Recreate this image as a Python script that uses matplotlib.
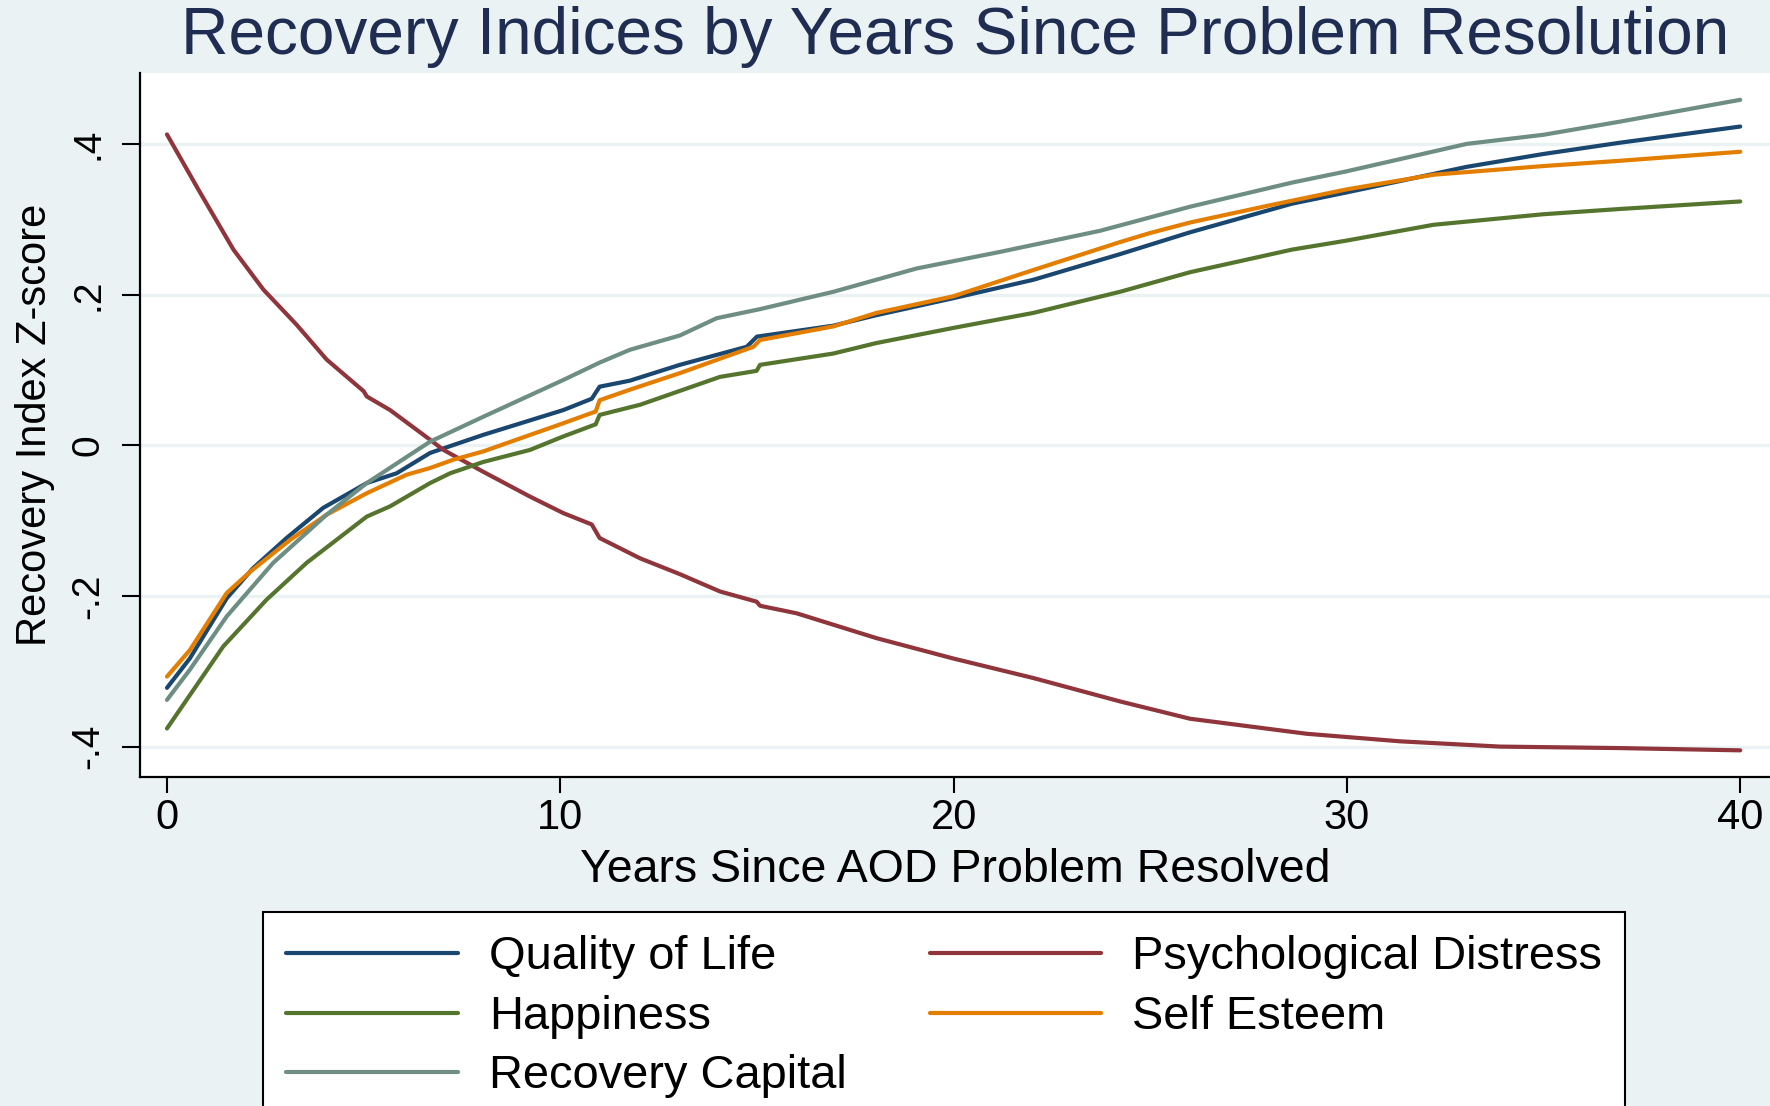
import matplotlib
matplotlib.use("Agg")
import matplotlib.pyplot as plt

plt.rcParams['font.family'] = ['Liberation Sans', 'DejaVu Sans']

# Smoothed recovery indices (z-scores) by years since AOD problem resolved
qol_x = [0, 0.58, 1.52, 2.19, 3.04, 3.97, 5.08, 5.84, 6.69, 8.04, 10.08, 10.8, 11.0, 11.77,
         13.04, 14.74, 15.0, 16.94, 18.04, 19.99, 22.03, 24.23, 26.01, 28.6, 29.99,
         33.05, 34.99, 36.94, 40.0]
qol_y = [-0.322, -0.283, -0.203, -0.163, -0.123, -0.083, -0.050, -0.037, -0.010, 0.014,
         0.047, 0.062, 0.078, 0.086, 0.107, 0.131, 0.1445, 0.159, 0.173, 0.1955, 0.220,
         0.254, 0.283, 0.321, 0.336, 0.370, 0.387, 0.402, 0.4235]

distress_x = [0, 0.84, 1.69, 2.45, 3.3, 4.06, 5.0, 5.08, 5.67, 6.69, 7.03, 8.04, 9.23, 10.08,
              10.8, 11.0, 12.03, 13.04, 14.06, 14.99, 15.08, 16.01, 18.04, 19.99, 22.03,
              24.23, 26.01, 28.98, 31.35, 33.89, 36.94, 40.0]
distress_y = [0.413, 0.336, 0.260, 0.207, 0.160, 0.114, 0.072, 0.065, 0.047, 0.0075, -0.006,
              -0.035, -0.068, -0.090, -0.105, -0.123, -0.150, -0.171, -0.194, -0.2075, -0.213,
              -0.223, -0.256, -0.283, -0.309, -0.340, -0.363, -0.383, -0.393, -0.400,
              -0.402, -0.405]

happy_x = [0, 1.43, 2.53, 3.55, 5.08, 5.67, 6.69, 7.2, 8.04, 9.23, 10.08, 10.9, 11.0, 12.03,
           14.06, 14.99, 15.08, 16.94, 18.04, 19.99, 22.03, 24.23, 26.01, 28.6, 29.99,
           32.2, 34.99, 36.94, 40.0]
happy_y = [-0.376, -0.267, -0.205, -0.156, -0.0945, -0.081, -0.050, -0.037, -0.022, -0.006,
           0.012, 0.028, 0.0405, 0.054, 0.091, 0.099, 0.107, 0.122, 0.136, 0.156, 0.176,
           0.204, 0.230, 0.260, 0.272, 0.293, 0.307, 0.314, 0.324]

esteem_x = [0, 0.58, 1.52, 2.11, 3.13, 4.06, 5.08, 6.09, 6.69, 7.28, 8.04, 10.08, 10.9,
            11.0, 11.77, 13.04, 14.91, 15.08, 16.94, 18.04, 19.99, 22.03, 24.23, 24.99,
            26.01, 27.96, 29.99, 32.2, 34.99, 36.94, 40.0]
esteem_y = [-0.307, -0.272, -0.196, -0.168, -0.1255, -0.092, -0.0635, -0.039, -0.030, -0.019,
            -0.008, 0.0295, 0.045, 0.060, 0.074, 0.096, 0.131, 0.140, 0.158, 0.176, 0.198,
            0.233, 0.270, 0.282, 0.296, 0.318, 0.340, 0.3595, 0.371, 0.378, 0.390]

capital_x = [0, 0.58, 1.52, 2.70, 4.06, 5.08, 6.69, 8.04, 10.08, 11.0, 11.77, 13.04, 13.98,
             15.08, 16.94, 19.06, 21.18, 23.72, 26.01, 28.6, 29.99, 33.05, 34.99, 36.94, 40.0]
capital_y = [-0.338, -0.298, -0.227, -0.156, -0.092, -0.050, 0.005, 0.038, 0.087, 0.110,
             0.127, 0.146, 0.169, 0.181, 0.204, 0.235, 0.257, 0.285, 0.317, 0.349, 0.364,
             0.4005, 0.4125, 0.430, 0.459]

series = [
    ("Quality of Life", qol_x, qol_y, "#1A476F"),
    ("Psychological Distress", distress_x, distress_y, "#90353B"),
    ("Happiness", happy_x, happy_y, "#55752F"),
    ("Self Esteem", esteem_x, esteem_y, "#E37E00"),
    ("Recovery Capital", capital_x, capital_y, "#6E8E84"),
]

y_ticks = [-0.4, -0.2, 0.0, 0.2, 0.4]
y_tick_labels = ["-.4", "-.2", "0", ".2", ".4"]
x_ticks = [0, 10, 20, 30, 40]
x_tick_labels = ["0", "10", "20", "30", "40"]

BG = "#EAF2F3"
W, H = 1770, 1106

fig = plt.figure(figsize=(W / 100, H / 100), dpi=100, facecolor=BG)
ax = fig.add_axes([140 / W, 1 - 776.7 / H, 1 - 140 / W, (776.7 - 72.7) / H])
ax.set_facecolor("white")

handles = {}
for name, xs, ys, col in series:
    (ln,) = ax.plot(xs, ys, color=col, lw=3.0, solid_joinstyle="round",
                    solid_capstyle="round", label=name)
    handles[name] = ln

ax.set_xlim(-0.686, 40.757)
ax.set_ylim(-0.44, 0.495)

ax.set_yticks(y_ticks, y_tick_labels)
ax.set_xticks(x_ticks, x_tick_labels)
ax.yaxis.grid(True, color=BG, lw=2.4)
ax.set_axisbelow(True)

for s in ("top", "right"):
    ax.spines[s].set_visible(False)
for s in ("left", "bottom"):
    ax.spines[s].set_linewidth(1.6)
    ax.spines[s].set_color("black")

ax.tick_params(axis="y", length=13, width=1.5, pad=11, labelsize=28, labelrotation=90)
ax.tick_params(axis="x", length=11.5, width=1.5, pad=4, labelsize=30)
for lab in ax.get_yticklabels():
    lab.set_va("center")

ax.set_ylabel("Recovery Index Z-score", fontsize=30)
ax.yaxis.set_label_coords((35 - 140) / 1630, 0.5)
ax.yaxis.label.set_va("center")

ax.set_xlabel("Years Since AOD Problem Resolved", fontsize=33.5)
ax.xaxis.set_label_coords(0.5, (776.7 - 870) / 704)
ax.xaxis.label.set_va("center")

fig.text(955 / W, 1 - 37 / H, "Recovery Indices by Years Since Problem Resolution",
         ha="center", va="center", fontsize=47.3, color="#1F2D52")

order = ["Quality of Life", "Happiness", "Recovery Capital", "Psychological Distress", "Self Esteem"]
leg = fig.legend([handles[n] for n in order], order, ncol=2, loc="upper left",
                 bbox_to_anchor=(263 / W, 1 - 912 / H), frameon=True, fancybox=False,
                 edgecolor="black", facecolor="white", framealpha=1, fontsize=33.8,
                 handlelength=3.66, handletextpad=0.65, columnspacing=1.77,
                 labelspacing=0.33, borderpad=0.5, borderaxespad=0)
leg.get_frame().set_linewidth(1.5)

fig.savefig("out.png", dpi=100, facecolor=BG)
